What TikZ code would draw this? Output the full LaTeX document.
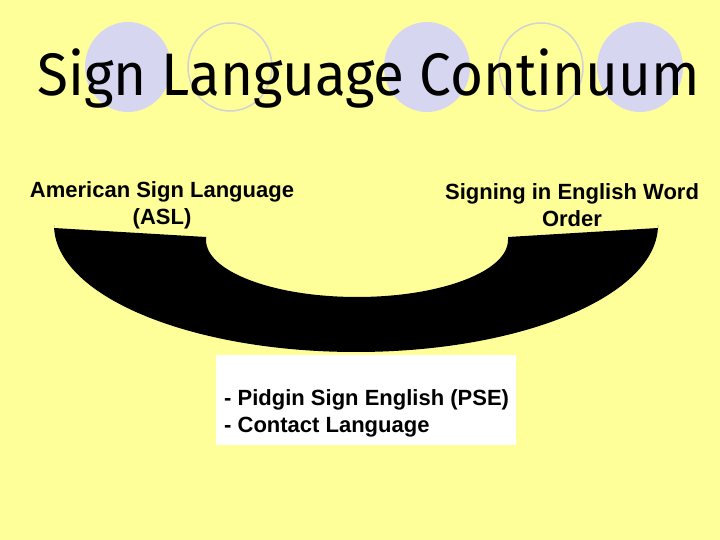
\documentclass[tikz,border=0pt]{standalone}
\usepackage{fontspec}
\setmainfont{Liberation Sans}
\newfontfamily\titlefont{Fira Sans}
\usetikzlibrary{shapes.geometric}
\definecolor{bgyellow}{RGB}{255,255,153}
\definecolor{lavender}{RGB}{214,214,240}
\definecolor{ringgray}{RGB}{210,210,215}
\tikzset{
  dot/.style={ellipse, minimum width=86pt, minimum height=90pt, inner sep=0pt, fill=lavender},
  ring/.style={ellipse, minimum width=84pt, minimum height=88pt, inner sep=0pt, draw=ringgray, line width=1.5pt},
  label/.style={font=\fontsize{22}{27}\selectfont\bfseries, align=center, inner sep=0pt},
  band/.style={fill=black},
  whitebox/.style={fill=white, draw=none, minimum width=300pt, minimum height=90pt, inner sep=0pt}
}
\begin{document}
\begin{tikzpicture}[x=1pt,y=1pt]
\fill[bgyellow] (0,0) rectangle (720,540);
\useasboundingbox (0,0) rectangle (720,540);
% decorative circles
\node[dot]  (c1) at (128,473) {};
\node[ring] (c2) at (230,473) {};
\node[dot]  (c3) at (427,473) {};
\node[ring] (c4) at (541,473) {};
\node[dot]  (c5) at (640,473) {};
% title
\node[anchor=base west, inner sep=0pt, font=\titlefont\fontsize{60}{60}\selectfont] (title) at (37,444) {\resizebox{663pt}{\height}{Sign Language Continuum}};
% labels
\node[label] (asl) at (162,335) {American Sign Language\\(ASL)};
\node[label] (seo) at (572,335) {Signing in English Word\\Order};
% crescent band
\fill[band] (54,312) -- (206,303) -- (206,300)
  arc[start angle=180, end angle=360, x radius=151, y radius=57]
  -- (508,303) -- (658,312) -- (658,315)
  arc[start angle=0, end angle=-180, x radius=302, y radius=127] -- cycle;
% middle box
\node[whitebox] (mid) at (366,140) {};
\node[anchor=west, font=\fontsize{22}{27}\selectfont\bfseries, align=left, inner sep=0pt] (pse) at (224,127) {- Pidgin Sign English (PSE)\\- Contact Language};
\end{tikzpicture}
\end{document}
